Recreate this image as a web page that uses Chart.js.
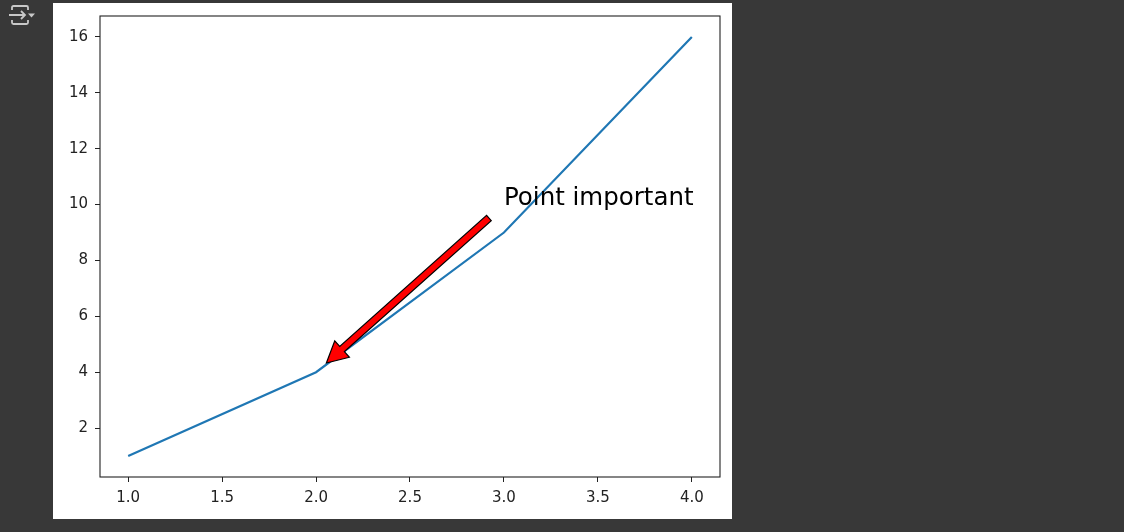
<!DOCTYPE html>
<html>
<head>
<meta charset="utf-8">
<script src="https://cdn.jsdelivr.net/npm/chart.js@4/dist/chart.umd.min.js"></script>
<style>
  html, body { margin:0; padding:0; background:#383838; width:1124px; height:532px; overflow:hidden; }
  #fig { position:absolute; left:53px; top:3px; width:679px; height:516px; background:#fff; }
  #icon { position:absolute; left:8px; top:4px; }
</style>
</head>
<body>
<svg id="icon" width="30" height="24" viewBox="0 0 30 24">
  <path d="M4 6 V3.5 Q4 2 5.5 2 H18.5 Q20 2 20 3.5 V6" fill="none" stroke="#c8c8c8" stroke-width="1.8"/>
  <path d="M4 16 V18.5 Q4 20 5.5 20 H18.5 Q20 20 20 18.5 V16" fill="none" stroke="#c8c8c8" stroke-width="1.8"/>
  <path d="M1 11 H17 M13 7 L17 11 L13 15" fill="none" stroke="#c8c8c8" stroke-width="1.8"/>
  <path d="M20 9.5 H27 L23.5 13.5 Z" fill="#c8c8c8"/>
</svg>
<div id="fig"><canvas id="chart"></canvas></div>
<script>
// ── data ────────────────────────────────────────────────────────────────
const X_VALUES = [1, 2, 3, 4];
const Y_VALUES = [1, 4, 9, 16];
const X_TICKS  = [1.0, 1.5, 2.0, 2.5, 3.0, 3.5, 4.0];
const Y_TICKS  = [2, 4, 6, 8, 10, 12, 14, 16];
const ANNOT_LABEL = "Point important";
const ANNOT_XY    = [2, 4];    // arrow points here
const ANNOT_TEXT  = [3, 10];   // text anchor

const FONT = "'DejaVu Sans', sans-serif";

// frame around the whole plot area + annotation arrow/text
const framePlugin = {
  id: "frame",
  afterDatasetsDraw(chart) {
    const {ctx, chartArea: a, scales} = chart;
    const x = scales.x, y = scales.y;

    // annotation arrow
    const p1 = [x.getPixelForValue(ANNOT_XY[0]),   y.getPixelForValue(ANNOT_XY[1])];
    const p2 = [x.getPixelForValue(ANNOT_TEXT[0]), y.getPixelForValue(ANNOT_TEXT[1])];
    const dx = p2[0]-p1[0], dy = p2[1]-p1[1];
    const tip  = [p1[0]+dx*0.055, p1[1]+dy*0.055];
    const tail = [p1[0]+dx*0.92,  p1[1]+dy*0.92];
    const len = Math.hypot(tail[0]-tip[0], tail[1]-tip[1]);
    const ux = (tail[0]-tip[0])/len, uy = (tail[1]-tip[1])/len;
    const nx = -uy, ny = ux;
    const sw = 3.5, hw = 11, hl = 21;
    const hb = [tip[0]+ux*hl, tip[1]+uy*hl];
    ctx.save();
    ctx.beginPath();
    ctx.moveTo(tip[0], tip[1]);
    ctx.lineTo(hb[0]+nx*hw, hb[1]+ny*hw);
    ctx.lineTo(hb[0]+nx*sw, hb[1]+ny*sw);
    ctx.lineTo(tail[0]+nx*sw, tail[1]+ny*sw);
    ctx.lineTo(tail[0]-nx*sw, tail[1]-ny*sw);
    ctx.lineTo(hb[0]-nx*sw, hb[1]-ny*sw);
    ctx.lineTo(hb[0]-nx*hw, hb[1]-ny*hw);
    ctx.closePath();
    ctx.fillStyle = "#ff0000";
    ctx.fill();
    ctx.lineWidth = 1.2;
    ctx.strokeStyle = "#000";
    ctx.lineJoin = "miter";
    ctx.stroke();

    // annotation text
    ctx.fillStyle = "#000";
    ctx.font = "24.5px " + FONT;
    ctx.textAlign = "left";
    ctx.textBaseline = "alphabetic";
    ctx.fillText(ANNOT_LABEL, p2[0], p2[1]);

    // axes box
    ctx.strokeStyle = "#222";
    ctx.lineWidth = 1.1;
    ctx.strokeRect(a.left, a.top, a.right-a.left, a.bottom-a.top);
    ctx.restore();
  }
};

new Chart(document.getElementById("chart"), {
  type: "line",
  data: {
    datasets: [{
      data: X_VALUES.map((v, i) => ({x: v, y: Y_VALUES[i]})),
      borderColor: "#1f77b4",
      borderWidth: 2.2,
      pointRadius: 0,
      tension: 0,
      fill: false,
    }],
  },
  options: {
    responsive: true, maintainAspectRatio: false, animation: false,
    layout: { padding: { top: 13, right: 12, left: 0, bottom: 0 } },
    plugins: { legend: { display: false }, tooltip: { enabled: false } },
    scales: {
      x: {
        type: "linear", min: 0.85, max: 4.15,
        afterBuildTicks: ax => { ax.ticks = X_TICKS.map(v => ({value: v})); },
        afterFit: ax => { ax.height = 42; ax.paddingLeft = 0; ax.paddingRight = 0; },
        grid: { drawOnChartArea: false, tickLength: 5, tickColor: "#222", tickWidth: 1 },
        border: { display: false },
        ticks: { color: "#222", font: { family: FONT, size: 15 }, padding: 7,
                 maxRotation: 0, autoSkip: false, callback: v => v.toFixed(1) },
      },
      y: {
        type: "linear", min: 0.25, max: 16.75,
        afterBuildTicks: ax => { ax.ticks = Y_TICKS.map(v => ({value: v})); },
        afterFit: ax => { ax.width = 47; ax.paddingTop = 0; ax.paddingBottom = 0; },
        grid: { drawOnChartArea: false, tickLength: 5, tickColor: "#222", tickWidth: 1 },
        border: { display: false },
        ticks: { color: "#222", font: { family: FONT, size: 15 }, padding: 7,
                 autoSkip: false, callback: v => String(v) },
      },
    },
  },
  plugins: [framePlugin],
});
</script>
</body>
</html>
